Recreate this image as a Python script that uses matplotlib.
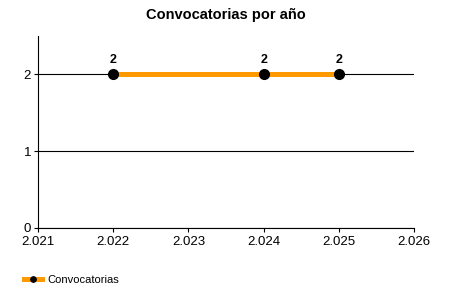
import matplotlib
matplotlib.use("Agg")
import matplotlib.pyplot as plt
from matplotlib.ticker import FuncFormatter

years = [2022, 2024, 2025]
convocatorias = [2, 2, 2]
x_ticks = [2021, 2022, 2023, 2024, 2025, 2026]
y_ticks = [0, 1, 2]

plt.rcParams['font.family'] = ['Liberation Sans', 'DejaVu Sans']

fig = plt.figure(figsize=(4.5, 3), dpi=100)
ax = fig.add_axes([38 / 450, 72 / 300, 376 / 450, 192 / 300])

ax.plot(years, convocatorias, color='#FF9900', linewidth=3.6,
        marker='o', markersize=7, markerfacecolor='black',
        markeredgecolor='black', label='Convocatorias', zorder=3)

for x, y in zip(years, convocatorias):
    ax.annotate(str(y), (x, y), xytext=(0, 6), textcoords='offset points',
                ha='center', va='bottom', fontsize=9, fontweight='bold')

ax.set_xlim(2021, 2026)
ax.set_ylim(0, 2.5)
ax.set_xticks(x_ticks)
ax.set_yticks(y_ticks)
ax.xaxis.set_major_formatter(FuncFormatter(lambda v, p: f"{int(v):,}".replace(',', '.')))
ax.yaxis.grid(True, color='black', linewidth=0.8)
ax.set_axisbelow(True)
ax.spines['top'].set_visible(False)
ax.spines['right'].set_visible(False)
ax.tick_params(axis='both', labelsize=9.5, length=3, width=0.8)
ax.tick_params(axis='x', pad=3)
ax.tick_params(axis='y', pad=2)

ax.set_title('Convocatorias por año', fontsize=10.5, fontweight='bold', pad=12)

ax.legend(loc='lower left', bbox_to_anchor=(20 / 450, 11 / 300),
          bbox_transform=fig.transFigure, frameon=False, fontsize=8,
          handlelength=1.6, handletextpad=0.5, markerscale=0.55, borderaxespad=0)

fig.savefig('out.png', dpi=100)
